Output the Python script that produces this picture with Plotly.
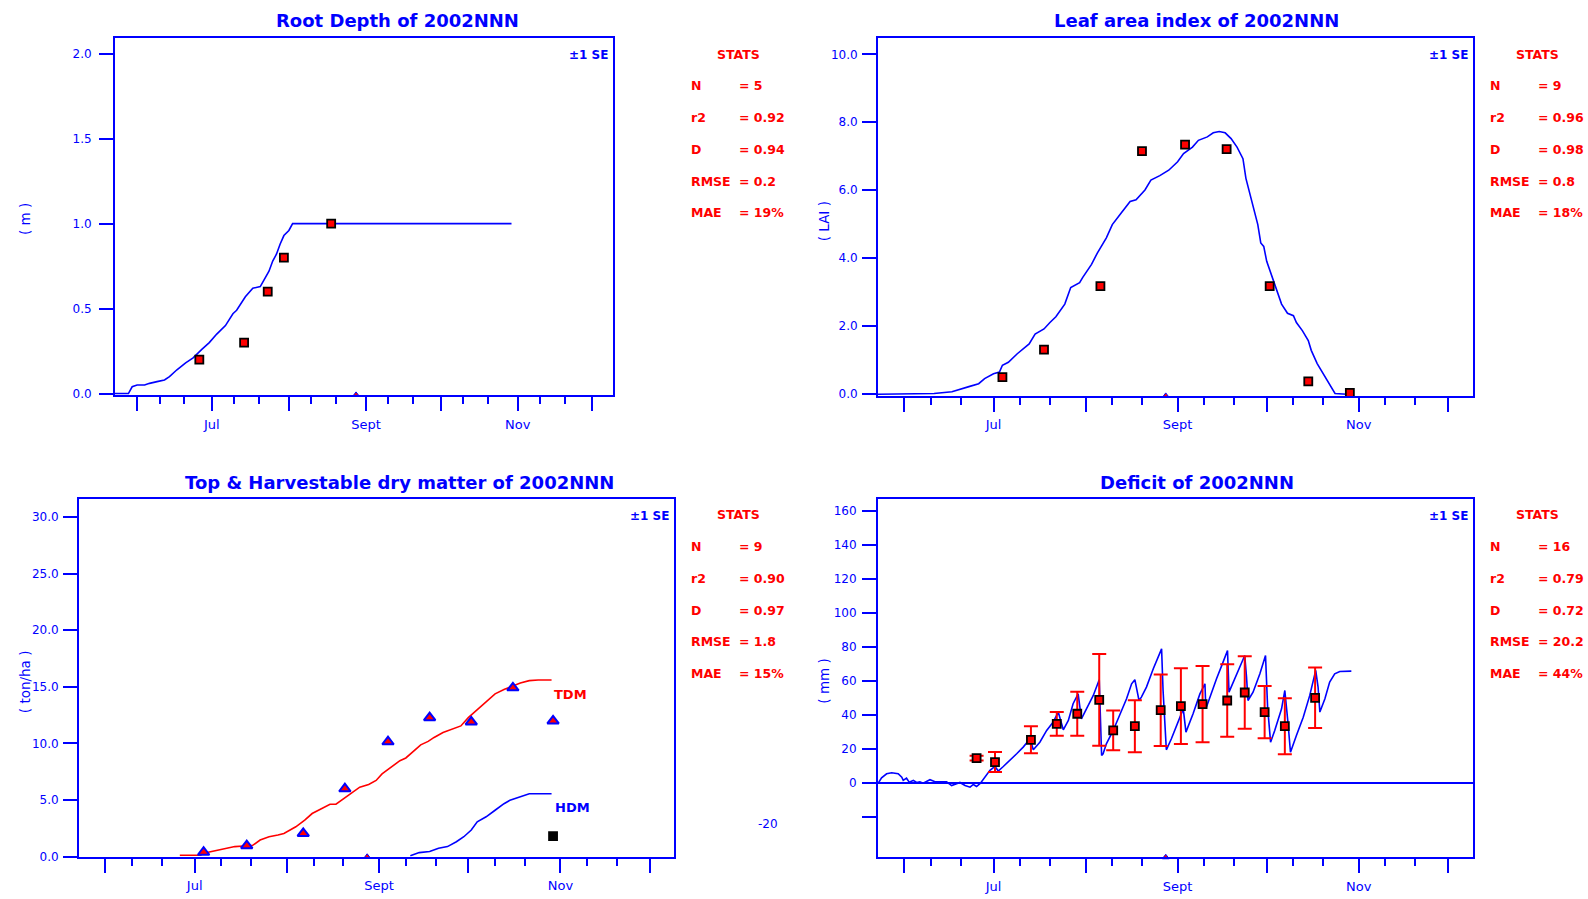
import plotly.graph_objects as go

W, H = 1588, 899
BLUE = "#0000ff"
RED = "#ff0000"
TICK_FONT = "DejaVu Sans"
TITLE_FONT = "DejaVu Sans"

# ---------------- data (x values are day of year, 2002) ----------------
month_doy = [152, 182, 213, 244, 274, 305, 335]
month_text = ["", "Jul", "", "Sept", "", "Nov", ""]
dekad_doy = [161, 171, 191, 201, 222, 232, 253, 263, 283, 293, 314, 324]
event_doy = [240]

# Root depth (m)
root_sim_doy = [143, 148.5, 150, 152, 155, 157, 160, 163, 165, 168, 171.5, 174.5, 178, 181,
                184, 187.5, 190.5, 192, 195.5, 198.5, 201.5, 203.5, 205, 206.5, 208, 209.5,
                211, 213, 214.5, 302.5]
root_sim = [0, 0, 0.04, 0.05, 0.05, 0.06, 0.07, 0.08, 0.10, 0.14, 0.18, 0.21, 0.26, 0.30,
            0.35, 0.40, 0.47, 0.49, 0.57, 0.62, 0.63, 0.68, 0.72, 0.78, 0.82, 0.88,
            0.93, 0.96, 1.0, 1.0]
root_obs_doy = [177, 195, 204.5, 211, 230]
root_obs = [0.20, 0.30, 0.60, 0.80, 1.0]

# Leaf area index
lai_sim_doy = [143, 162, 168, 171, 174, 177, 179, 182, 184, 185, 187, 190, 192, 194, 196,
               199, 201, 203, 206, 208, 211, 212, 215, 217, 220, 222, 225, 228, 230, 233,
               235, 238, 241, 244, 246, 249, 251, 254, 256, 258, 260, 262, 264, 266, 267,
               269, 271, 272, 273, 274, 276, 277.5, 279, 281, 283, 284, 286, 288, 289,
               291, 293, 294, 296, 297, 301]
lai_sim = [0, 0.02, 0.07, 0.14, 0.23, 0.31, 0.46, 0.60, 0.65, 0.85, 0.94, 1.19, 1.33, 1.48,
           1.77, 1.92, 2.11, 2.28, 2.65, 3.14, 3.28, 3.43, 3.82, 4.16, 4.60, 4.99, 5.33,
           5.67, 5.72, 6.01, 6.30, 6.43, 6.59, 6.84, 7.08, 7.27, 7.47, 7.57, 7.69, 7.73,
           7.69, 7.52, 7.27, 6.93, 6.35, 5.67, 4.99, 4.45, 4.35, 3.91, 3.43, 3.04, 2.65,
           2.38, 2.31, 2.11, 1.87, 1.58, 1.29, 0.90, 0.60, 0.46, 0.17, 0.02, 0.0]
lai_obs_doy = [185, 199, 218, 232, 246.5, 260.5, 275, 288, 302]
lai_obs = [0.50, 1.31, 3.18, 7.15, 7.34, 7.21, 3.18, 0.38, 0.04]

# Top (TDM) and harvestable (HDM) dry matter (ton/ha)
tdm_sim_doy = [177, 184, 185, 189.5, 192.5, 195.5, 198.5, 201.5, 204, 207, 210, 212, 216,
               219, 221.5, 224.5, 227.5, 229.5, 232, 235, 237.5, 240.5, 243, 245, 248,
               251, 253, 255, 258, 260.5, 262.5, 265.5, 268.5, 271.5, 274, 277, 280, 283,
               286, 289, 291.5, 294.5, 297.5, 302]
tdm_sim = [0.12, 0.12, 0.29, 0.53, 0.73, 0.88, 0.93, 0.99, 1.46, 1.75, 1.90, 2.04, 2.63,
           3.21, 3.80, 4.24, 4.62, 4.62, 5.11, 5.70, 6.13, 6.37, 6.72, 7.30, 7.89, 8.47,
           8.71, 9.20, 9.87, 10.17, 10.52, 10.96, 11.25, 11.54, 12.27, 13.00, 13.73,
           14.37, 14.75, 15.05, 15.34, 15.54, 15.60, 15.60]
hdm_sim_doy = [254.5, 257.5, 261, 264, 267, 270, 272.5, 275, 277, 280, 283, 286, 288,
               291.5, 294.5, 302]
hdm_sim = [0.06, 0.35, 0.44, 0.73, 0.88, 1.31, 1.75, 2.34, 3.07, 3.51, 4.09, 4.67, 4.97,
           5.26, 5.55, 5.55]
tdm_obs_doy = [185, 199.5, 218.5, 232.5, 247, 261, 275, 289, 302.5]
tdm_obs = [0.38, 0.96, 2.04, 5.99, 10.14, 12.27, 11.89, 14.90, 11.98]
hdm_obs_doy = [302.5]
hdm_obs = [1.81]

# Soil water deficit (mm)
def_sim_doy = [143.2, 144.3, 146, 147.7, 149.9, 151.1, 151.6, 152.7, 153.6, 155, 156.1,
               157.2, 158.3, 160.6, 162.3, 164, 166.2, 167.9, 170.7, 172.4, 174.1, 175.2,
               176.3, 177.6, 179.1, 180.8, 182.5, 183.6, 185.3, 187.5, 189.8, 192, 194.3,
               195.4, 197.6, 199.9, 202.1, 203.8, 204.9, 205.5, 207.2, 208.8, 210.5,
               211.3, 211.6, 213.3, 215.6, 217.6, 218.0, 218.4, 218.9, 220.0, 222.3,
               225.1, 226.8, 228.5, 229.6, 230.1, 231.0, 231.8, 233.5, 235.8, 237.4,
               238.6, 239.1, 239.7, 240.2, 241.9, 244.2, 245.9, 246.8, 249.2, 251.5,
               253.2, 253.5, 254.8, 257.1, 259.3, 260.8, 261.3, 262.7, 264.9, 266.6,
               267.2, 267.7, 269.4, 271.7, 273.6, 274.3, 275.3, 276.7, 279.0, 280.1,
               281.2, 282.0, 284.0, 286.3, 288.5, 290.5, 291.3, 291.9, 293.6, 295.2,
               296.9, 298.6, 302.5]
def_sim = [0, 3.1, 5.5, 6.1, 5.5, 3.5, 1.6, 2.9, 0.6, 1.6, 0.4, 0.8, 0, 2.0, 0.8, 0.8, 0.8,
           -1.4, 0.4, -1.4, -2.4, -0.8, -2.0, 0, 3.5, 7.5, 9.8, 7.1, 9.8, 13.3, 17.3, 21.2,
           26.1, 19.6, 24.1, 31.0, 35.9, 41.8, 34.9, 31.4, 36.9, 46.7, 52.5, 41.8, 37.8,
           43.7, 51.6, 60.8, 37.8, 16.3, 17.3, 23.1, 31.0, 42.4, 49.6, 58.4, 60.8, 56.5,
           48.6, 50.6, 56.5, 67.3, 74.1, 79.0, 54.5, 34.9, 19.6, 26.1, 36.9, 43.7, 30.0,
           40.8, 52.5, 58.4, 43.7, 50.6, 61.4, 71.2, 78.0, 53.5, 59.4, 68.2, 75.1, 62.4,
           48.6, 53.5, 64.3, 75.1, 44.7, 24.1, 31.0, 43.7, 54.5, 34.9, 18.2, 28.0, 38.8,
           51.6, 66.3, 56.5, 41.8, 49.6, 59.4, 64.3, 65.7, 65.9]
def_obs_doy = [176.3, 182.5, 194.6, 203.3, 210.2, 217.6, 222.3, 229.6, 238.3, 245.1,
               252.4, 260.7, 266.6, 273.3, 280.1, 290.3]
def_obs = [14.7, 12.4, 25.5, 34.9, 40.8, 49.0, 31.0, 33.5, 42.9, 45.3, 46.5, 48.6, 53.3,
           41.8, 33.5, 50.2]
def_se = [1.4, 5.9, 7.9, 7.0, 12.9, 27.0, 11.7, 15.3, 21.0, 22.3, 22.4, 21.3, 21.3, 15.4,
          16.5, 17.8]

stat_names = ["N", "r2", "D", "RMSE", "MAE"]
stats_root = ["5", "0.92", "0.94", "0.2", "19%"]
stats_lai = ["9", "0.96", "0.98", "0.8", "18%"]
stats_dm = ["9", "0.90", "0.97", "1.8", "15%"]
stats_def = ["16", "0.79", "0.72", "20.2", "44%"]

root_ticks = [0, 0.5, 1.0, 1.5, 2.0]
lai_ticks = [0, 2, 4, 6, 8, 10]
dm_ticks = [0, 5, 10, 15, 20, 25, 30]
def_ticks = [-20, 0, 20, 40, 60, 80, 100, 120, 140, 160]

# ---------------- layout geometry (pixels) ----------------
X_RANGE = [143.1, 343.3]
panels = {
    1: dict(x=(115, 613), y=(38.3, 398.0), yr=[-0.008, 2.093], standoff=5),
    2: dict(x=(878, 1472.5), y=(38.3, 399.0), yr=[-0.05, 10.48], standoff=2),
    3: dict(x=(79, 674.4), y=(503.3, 863.5), yr=[-0.02, 31.55], standoff=2),
    4: dict(x=(878, 1472.5), y=(503.3, 864.0), yr=[-43.6, 166.9], standoff=3),
}


def fx(p):
    return p / W


def fy(p):
    return 1 - p / H


fig = go.Figure()


def ax_names(i):
    s = "" if i == 1 else str(i)
    return "x" + s, "y" + s, "xaxis" + s, "yaxis" + s


def line(i, xs, ys, color):
    xr, yr, _, _ = ax_names(i)
    fig.add_trace(go.Scatter(x=xs, y=ys, mode="lines", xaxis=xr, yaxis=yr,
                             line=dict(color=color, width=1.6), hoverinfo="skip"))


def squares(i, xs, ys, fill=RED, err=None, size=8):
    xr, yr, _, _ = ax_names(i)
    kw = {}
    if err is not None:
        kw["error_y"] = dict(type="data", array=err, visible=True, color=RED,
                             thickness=2, width=7)
    fig.add_trace(go.Scatter(x=xs, y=ys, mode="markers", xaxis=xr, yaxis=yr,
                             marker=dict(symbol="square", size=size, color=fill,
                                         line=dict(color="black", width=1.8)),
                             cliponaxis=False, **kw))


# Root depth
line(1, root_sim_doy, root_sim, BLUE)
squares(1, root_obs_doy, root_obs)

# LAI
line(2, lai_sim_doy, lai_sim, BLUE)
squares(2, lai_obs_doy, lai_obs)

# Dry matter
line(3, tdm_sim_doy, tdm_sim, RED)
line(3, hdm_sim_doy, hdm_sim, BLUE)
fig.add_trace(go.Scatter(x=tdm_obs_doy, y=tdm_obs, mode="markers", xaxis="x3", yaxis="y3",
                         marker=dict(symbol="triangle-up", size=10, color=RED,
                                     line=dict(color=BLUE, width=2)),
                         cliponaxis=False))
squares(3, hdm_obs_doy, hdm_obs, fill="black")

# Deficit
line(4, def_sim_doy, def_sim, BLUE)
squares(4, def_obs_doy, def_obs, err=def_se)

# event marker on the bottom edge of every panel
for i in range(1, 5):
    xr, yr, _, _ = ax_names(i)
    fig.add_trace(go.Scatter(x=event_doy, y=[panels[i]["yr"][0]] * len(event_doy),
                             mode="markers", xaxis=xr, yaxis=yr, cliponaxis=False,
                             marker=dict(symbol="triangle-up", size=6, color=RED,
                                         line=dict(color=BLUE, width=1))))

tick_sets = {1: (root_ticks, "{:.1f}"), 2: (lai_ticks, "{:.1f}"),
             3: (dm_ticks, "{:.1f}"), 4: (def_ticks, "{:d}")}

layout = dict(width=W, height=H, margin=dict(l=0, r=0, t=0, b=0),
              paper_bgcolor="white", plot_bgcolor="white", showlegend=False)

for i, p in panels.items():
    xr, yr, xk, yk = ax_names(i)
    vals, fmt = tick_sets[i]
    texts = [fmt.format(v) for v in vals]
    if i == 4:
        texts[0] = ""
    layout[xk] = dict(
        domain=[fx(p["x"][0]), fx(p["x"][1])], anchor=yr, range=X_RANGE,
        showline=True, linecolor=BLUE, linewidth=2, mirror=True,
        showgrid=False, zeroline=False,
        ticks="outside", ticklen=14, tickwidth=2, tickcolor=BLUE,
        tickmode="array", tickvals=month_doy, ticktext=month_text,
        tickfont=dict(family=TICK_FONT, size=13, color=BLUE), ticklabelstandoff=2,
        minor=dict(tickmode="array", tickvals=dekad_doy, ticks="outside", ticklen=7,
                   tickwidth=2, tickcolor=BLUE, showgrid=False),
    )
    layout[yk] = dict(
        domain=[fy(p["y"][1]), fy(p["y"][0])], anchor=xr, range=p["yr"],
        showline=True, linecolor=BLUE, linewidth=2, mirror=True,
        showgrid=False, zeroline=(i == 4), zerolinecolor=BLUE, zerolinewidth=2,
        ticks="outside", ticklen=14, tickwidth=2, tickcolor=BLUE,
        tickmode="array", tickvals=vals, ticktext=texts,
        tickfont=dict(family=TICK_FONT, size=12, color=BLUE),
        ticklabelstandoff=p["standoff"],
    )

fig.update_layout(**layout)


def note(text, x, y, color=BLUE, size=12, xanchor="left", angle=0, bold=False):
    fig.add_annotation(text=f"<b>{text}</b>" if bold else text,
                       x=fx(x), y=fy(y), xref="paper", yref="paper",
                       xanchor=xanchor, yanchor="middle", showarrow=False,
                       textangle=angle, borderpad=0,
                       font=dict(family=TITLE_FONT, size=size, color=color))


# panel titles
note("Root Depth of 2002NNN", 397, 21, size=18, xanchor="center", bold=True)
note("Leaf area index of 2002NNN", 1196.5, 21, size=18, xanchor="center", bold=True)
note("Top &amp; Harvestable dry matter of 2002NNN", 399, 486, size=18, xanchor="center",
     bold=True)
note("Deficit of 2002NNN", 1196.5, 486, size=18, xanchor="center", bold=True)

# axis titles
note("( m )", 25.7, 221, size=13.5, xanchor="center", angle=-90)
note("( LAI )", 824, 223, size=13.5, xanchor="center", angle=-90)
note("( ton/ha )", 25, 687.5, size=13.5, xanchor="center", angle=-90)
note("( mm )", 824, 687, size=13.5, xanchor="center", angle=-90)

# standard-error key
note("±1 SE", 608.5, 55, size=12, xanchor="right", bold=True)
note("±1 SE", 1468.5, 55, size=12, xanchor="right", bold=True)
note("±1 SE", 670, 520, size=12, xanchor="right", bold=True)
note("±1 SE", 1468.5, 520, size=12, xanchor="right", bold=True)

# statistics blocks
for stats, lx, vx, y0 in [(stats_root, 690, 738, 54.5), (stats_lai, 1489, 1537, 54.5),
                          (stats_dm, 690, 738, 519), (stats_def, 1489, 1537, 519)]:
    note("STATS", vx, y0, color=RED, size=12.5, xanchor="center", bold=True)
    for k, (name, val) in enumerate(zip(stat_names, stats)):
        yy = y0 + 32 * (k + 1)
        note(name, lx, yy, color=RED, size=12.5, bold=True)
        note("= " + val, vx, yy, color=RED, size=12.5, bold=True)

# series labels in the dry matter panel
note("TDM", 553, 700, color=RED, size=13, bold=True)
note("HDM", 554, 814, color=BLUE, size=13, bold=True)

# detached label of the -20 tick in the deficit panel
note("-20", 768, 830, size=12, xanchor="center")

fig.write_html("out.html")
